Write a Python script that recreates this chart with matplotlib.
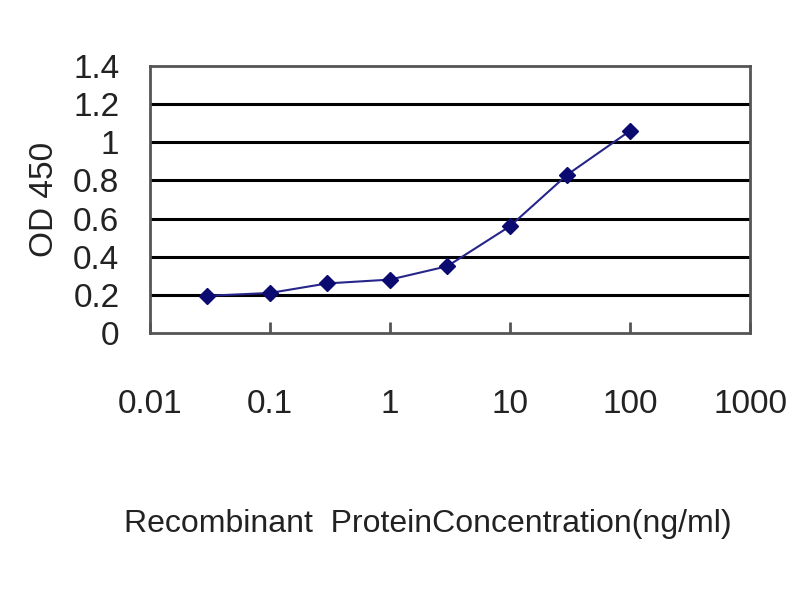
import matplotlib
matplotlib.use("Agg")
import matplotlib.pyplot as plt
from matplotlib.ticker import FixedLocator, FixedFormatter, NullLocator

concentration = [0.03, 0.1, 0.3, 1, 3, 10, 30, 100]
od450 = [0.195, 0.21, 0.26, 0.28, 0.35, 0.56, 0.83, 1.06]
x_ticks = [0.01, 0.1, 1, 10, 100, 1000]
x_tick_labels = ["0.01", "0.1", "1", "10", "100", "1000"]
y_ticks = [0, 0.2, 0.4, 0.6, 0.8, 1.0, 1.2, 1.4]
y_tick_labels = ["0", "0.2", "0.4", "0.6", "0.8", "1", "1.2", "1.4"]

plt.rcParams['font.family'] = ['Liberation Sans', 'DejaVu Sans']

fig = plt.figure(figsize=(8, 6), dpi=100)
ax = fig.add_axes([0.1875, 0.445, 0.75, 0.445])

ax.set_xscale('log')
ax.set_xlim(0.01, 1000)
ax.set_ylim(0, 1.4)

ax.yaxis.set_major_locator(FixedLocator(y_ticks))
ax.yaxis.set_major_formatter(FixedFormatter(y_tick_labels))
ax.xaxis.set_major_locator(FixedLocator(x_ticks))
ax.xaxis.set_major_formatter(FixedFormatter(x_tick_labels))
ax.xaxis.set_minor_locator(NullLocator())

for y in y_ticks[1:-1]:
    ax.axhline(y, color='black', linewidth=2.2, zorder=1)

ax.plot(concentration, od450, color='#26268a', linewidth=1.5, marker='D',
        markersize=8, markerfacecolor='#0a0a70', markeredgecolor='#0a0a70', zorder=3)

for s in ax.spines.values():
    s.set_color('#555555')
    s.set_linewidth(2)

ax.tick_params(axis='x', direction='in', length=8, width=2, color='#555555',
               pad=40, labelsize=24, labelcolor='#222222')
ax.tick_params(axis='y', direction='in', length=0, pad=22, labelsize=24,
               labelcolor='#222222')

ax.set_ylabel('OD 450', fontsize=24, color='#222222')
ax.yaxis.set_label_coords(-0.15, 0.5)
ax.set_xlabel('Recombinant  ProteinConcentration(ng/ml)', fontsize=23,
              color='#222222')
ax.xaxis.set_label_coords(0.463, -0.66)

fig.savefig('out.png', dpi=100, facecolor='white')
